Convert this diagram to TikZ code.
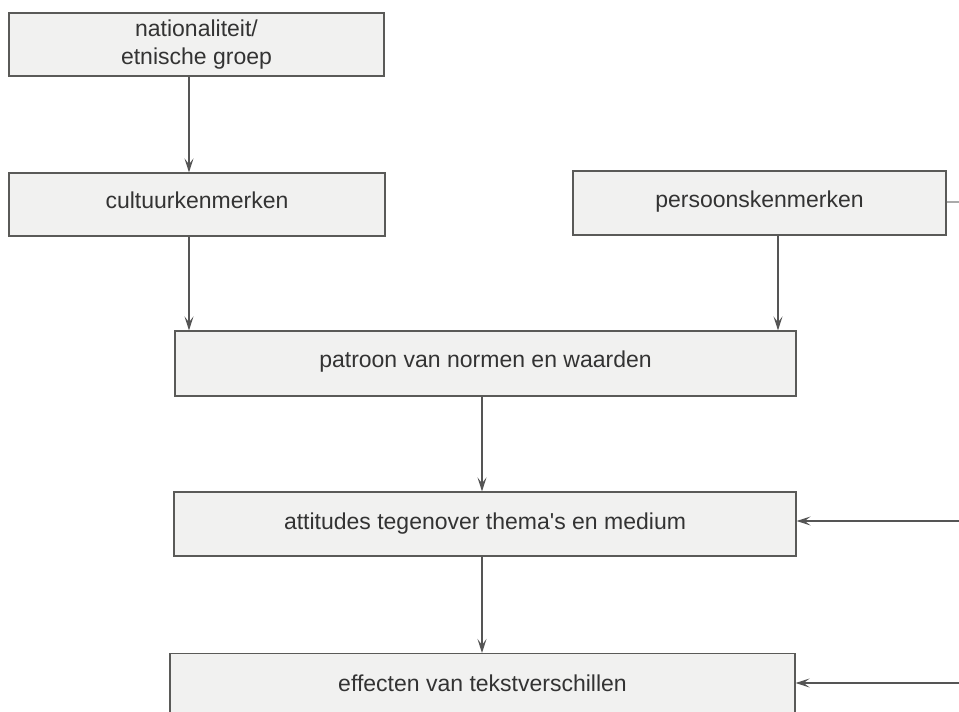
\documentclass[tikz,border=0pt]{standalone}
\usepackage{fontspec}
\newfontfamily\plainfont{Liberation Sans}
\usetikzlibrary{arrows.meta}
\definecolor{boxfill}{HTML}{F1F1F0}
\definecolor{boxline}{HTML}{5A5A58}
\definecolor{txt}{HTML}{333333}
\definecolor{arr}{HTML}{555555}
\begin{document}
\begin{tikzpicture}[x=1pt,y=-1pt,
  box/.style={draw=boxline, line width=1.2pt, fill=boxfill, inner sep=0pt, text=txt,
    font=\plainfont\fontsize{23}{28}\selectfont, align=center},
  conn/.style={draw=arr, line width=1.2pt, -{Stealth[length=14pt,width=9pt,inset=6pt]}},
  stub/.style={draw=arr!50, line width=1.2pt}]
\useasboundingbox (0,0) rectangle (959,712);
\clip (0,0) rectangle (959,712);
\fill[white] (0,0) rectangle (959,712);
\node[box, minimum width=375pt, minimum height=63pt] (nat) at (196.5,44.5) {nationaliteit/\\etnische groep};
\node[box, minimum width=376pt, minimum height=63pt, text depth=8pt] (cul) at (197,204.5) {cultuurkenmerken};
\node[box, minimum width=373pt, minimum height=64pt, text depth=7pt] (per) at (759.5,203) {persoonskenmerken};
\node[box, minimum width=621pt, minimum height=65pt, text depth=8pt] (pat) at (485.5,363.5) {patroon van normen en waarden};
\node[box, minimum width=622pt, minimum height=64pt, text depth=5pt] (att) at (485,524) {attitudes tegenover thema's en medium};
\node[box, minimum width=625pt, minimum height=66pt, anchor=north] (eff) at (482.5,653) {};
\node[text=txt, font=\plainfont\fontsize{23}{28}\selectfont, anchor=base] (efft) at (482.5,691) {effecten van tekstverschillen};
\coordinate (r1) at (960,521);
\coordinate (r2) at (960,683);
\coordinate (r0) at (960,202);
\draw[conn] (nat.south -| 189,0) -- (cul.north -| 189,0);
\draw[conn] (cul.south -| 189,0) -- (pat.north -| 189,0);
\draw[conn] (per.south -| 778,0) -- (pat.north -| 778,0);
\draw[conn] (pat.south -| 482,0) -- (att.north -| 482,0);
\draw[conn] (att.south -| 482,0) -- (eff.north -| 482,0);
\draw[conn] (r1) -- (att.east |- r1);
\draw[conn] (r2) -- (eff.east |- r2);
\draw[stub] (per.east |- r0) -- (r0);
\end{tikzpicture}
\end{document}
